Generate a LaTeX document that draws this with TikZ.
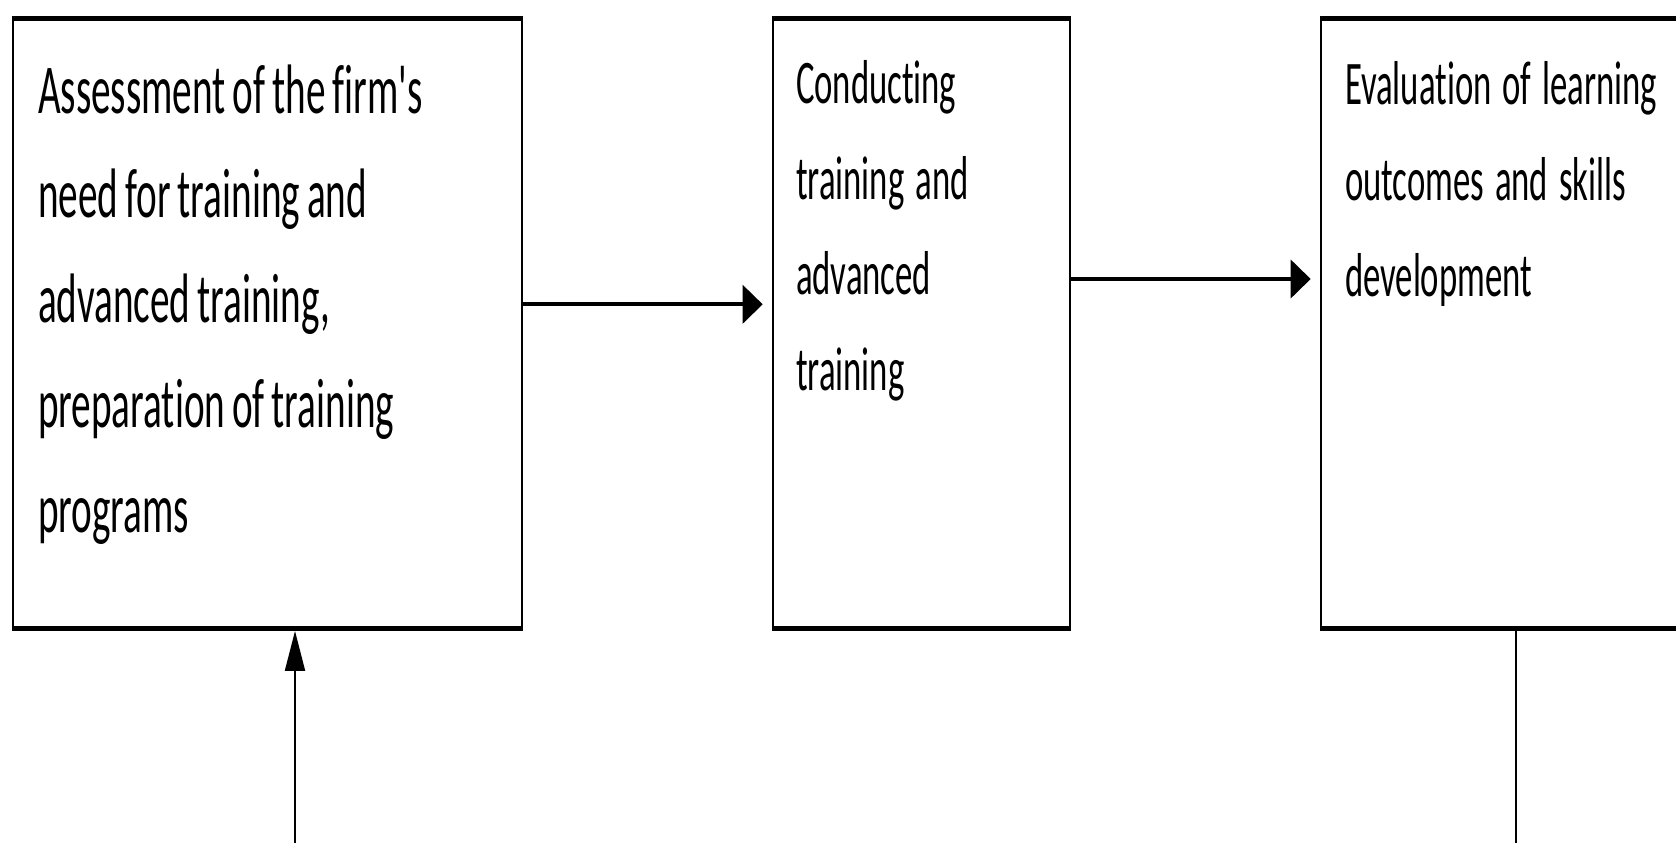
\documentclass[tikz,border=0pt]{standalone}
\usepackage{fontspec}
\newfontfamily\boxfont[FakeStretch=0.56, Ligatures={NoCommon,NoContextual}]{Carlito}
\usetikzlibrary{arrows.meta}
\begin{document}
\begin{tikzpicture}[x=1pt,y=-1pt,
  box/.style={draw, line width=2pt, inner sep=0pt, outer sep=0pt, anchor=north west, minimum height=610.2pt},
  edgeline/.style={line width=4.5pt, shorten <=-1pt, shorten >=-1pt},
  txt/.style={anchor=base west, inner sep=0pt, outer sep=0pt, align=left, text width=#1},
  harrow/.style={line width=4pt, -{Triangle[length=20pt,width=38pt]}},
  varrow/.style={line width=2pt, -{Triangle[length=40pt,width=20pt]}}]
\fill[white] (0,0) rectangle (1676,843);
\useasboundingbox (0,0) rectangle (1676,843);
\clip (0,0) rectangle (1676,843);

\node[box, minimum width=509pt] (b1) at (13,18.5) {};
\node[box, minimum width=297pt] (b2) at (773,18.5) {};
\node[box, minimum width=500pt] (b3) at (1321,18.5) {};

\foreach \b in {b1,b2,b3}{
  \draw[edgeline] (\b.north west) -- (\b.north east);
  \draw[edgeline] (\b.south west) -- (\b.south east);
}

\node[txt=600pt, font=\boxfont\fontsize{70}{104.75}\selectfont] (t1) at (38,113)
  {\spaceskip=7pt\relax Assessment of the firm's\\need for training and\\advanced training,\\preparation of training\\programs};
\node[txt=600pt, font=\boxfont\fontsize{62}{95.7}\selectfont] (t2) at (796,103.5)
  {\spaceskip=11pt\relax Conducting\\training and\\advanced\\training};
\node[txt=600pt, font=\boxfont\fontsize{62}{95.7}\selectfont] (t3) at (1345,104.8)
  {\spaceskip=11pt\relax Evaluation of learning\\outcomes and skills\\development};

\coordinate (r1) at (0,304.3);
\coordinate (r2) at (0,279);
\coordinate (s1) at (295,860);
\coordinate (s2) at (1515.7,860);

\draw[harrow, shorten >=10.3pt] (b1.east |- r1) -- (b2.west |- r1);
\draw[harrow, shorten >=10.3pt] (b2.east |- r2) -- (b3.west |- r2);
\draw[varrow, shorten >=2.25pt] (s1) -- (b1.south -| s1);
\draw[line width=2pt] (b3.south -| s2) -- (s2);
\end{tikzpicture}
\end{document}
